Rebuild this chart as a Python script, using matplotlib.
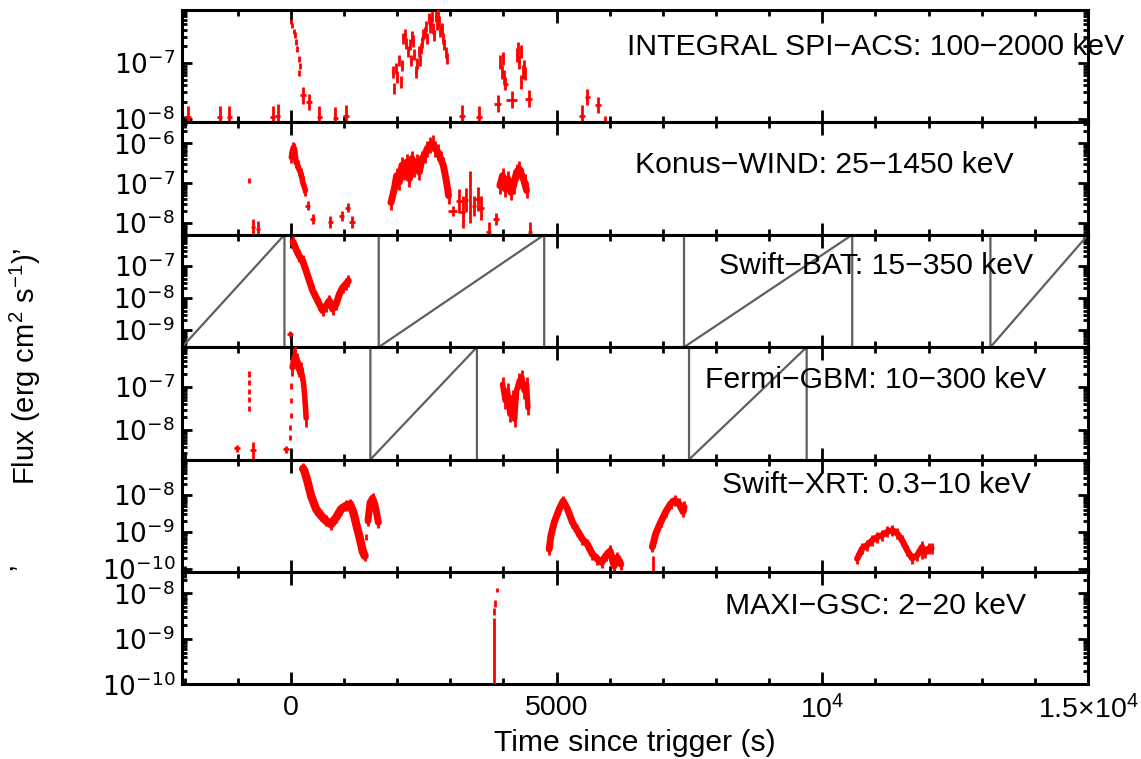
import numpy as np
import matplotlib
matplotlib.use('Agg')
import matplotlib.pyplot as plt
from matplotlib.ticker import LogLocator, NullFormatter, FixedLocator, FixedFormatter, MultipleLocator

plt.rcParams['font.family'] = ['Liberation Sans', 'DejaVu Sans']
plt.rcParams['mathtext.fontset'] = 'custom'
plt.rcParams['mathtext.rm'] = 'Liberation Sans'
plt.rcParams['mathtext.it'] = 'Liberation Sans:italic'
plt.rcParams['mathtext.bf'] = 'Liberation Sans:bold'

# ---- data: time since trigger (s) and log10 flux (erg cm-2 s-1) ----
# INTEGRAL SPI-ACS
acs1_t = [8, 28, 62, 82, 98, 118, 160, 178, 145]
acs1_lf = [-6.25, -6.32, -6.43, -6.49, -6.62, -6.74, -6.92, -7.05, -7.18]
acs2_t = [1914, 1946, 1977, 2000, 2027, 2071, 2090, 2115, 2153, 2170, 2196, 2241, 2260, 2278, 2300,
          2322, 2353, 2380, 2403, 2430, 2447, 2470, 2491, 2520, 2541, 2560, 2591, 2610, 2635, 2650,
          2679, 2700, 2729, 2750, 2767, 2785, 2805, 2842, 2860, 2886, 2910, 2929]
acs2_lf = [-7.16, -7.46, -7.10, -7.25, -6.95, -7.34, -7.05, -6.55, -6.49, -6.65, -6.79, -6.67, -6.95, -6.52, -6.60,
           -6.85, -7.16, -7.00, -6.79, -6.95, -6.73, -6.62, -6.49, -6.45, -6.34, -6.55, -6.19, -6.35, -6.25, -6.15,
           -6.37, -6.50, -6.16, -6.30, -6.10, -6.25, -6.43, -6.37, -6.55, -6.67, -6.80, -6.91]
acs3_t = [3932, 3970, 3995, 4014, 4246, 4271, 4296, 4321, 4333, 4358, 4390, 4409]
acs3_lf = [-6.98, -7.16, -6.91, -7.25, -6.85, -6.73, -6.98, -6.79, -7.34, -7.16, -7.07, -7.19]
acsx_t = [-1940, -1344, -1156, -342, -248, 222, 335, 536, 837, 1038,
          3218, 3544, 3888, 4033, 4152, 4471, 5474, 5580, 5781, 5913]
acsx_lf = [-7.97, -7.97, -7.97, -7.98, -7.95, -7.58, -7.70, -7.97, -7.99, -7.96,
           -7.95, -7.98, -7.73, -7.37, -7.66, -7.64, -7.95, -7.61, -7.76, -8.05]
acsx_dt = [60, 45, 45, 45, 45, 55, 55, 50, 50, 50, 55, 60, 70, 50, 100, 60, 55, 50, 50, 0]
acsx_dlf = [0.2, 0.2, 0.2, 0.2, 0.22, 0.15, 0.15, 0.2, 0.2, 0.2,
            0.2, 0.2, 0.15, 0.12, 0.15, 0.15, 0.2, 0.14, 0.14, 0.1]

# Konus-WIND
kw1_t = [8, 22, 45, 66, 97, 128, 160, 191, 222, 254, 273]
kw1_lf = [-6.35, -6.22, -6.10, -6.13, -6.47, -6.55, -6.68, -6.76, -6.97, -7.10, -7.18]
kw2_t = [1883, 1946, 1989, 2040, 2090, 2134, 2177, 2228, 2278, 2322, 2365, 2416, 2466, 2516,
         2566, 2617, 2667, 2717, 2767, 2817, 2867, 2918, 2967]
kw2_lf = [-7.48, -7.14, -6.81, -6.97, -6.55, -6.72, -6.47, -6.89, -6.38, -6.64, -6.47, -6.72, -6.38, -6.30,
          -6.13, -6.05, -6.00, -6.13, -6.22, -6.38, -6.55, -6.89, -7.31]
kw3_t = [3932, 3982, 4033, 4083, 4139, 4189, 4246, 4296, 4346, 4396, 4434]
kw3_lf = [-7.06, -6.81, -7.14, -6.89, -7.23, -7.06, -6.72, -6.64, -6.81, -6.97, -7.18]
kwx_t = [-780, -718, -624, 316, 410, 743, 955, 1068, 1150, 3042, 3168, 3230, 3290, 3369,
         3450, 3512, 3575, 3719, 3857, 4497]
kwx_lf = [-6.93, -8.10, -8.15, -7.56, -7.89, -7.97, -7.82, -7.61, -7.97, -7.69, -7.44, -7.73, -7.42, -7.35,
          -7.56, -7.40, -7.61, -8.22, -7.90, -8.22]
kwx_dt = [0, 40, 40, 50, 50, 50, 50, 50, 50, 90, 60, 40, 40, 10, 40, 40, 50, 50, 60, 45]
kwx_dlf = [0.07, 0.2, 0.2, 0.12, 0.12, 0.15, 0.12, 0.12, 0.15, 0.12, 0.3, 0.4, 0.3, 0.65,
           0.25, 0.3, 0.3, 0.25, 0.15, 0.25]

# Swift-BAT
bat_t = [40, 97, 160, 222, 286, 348, 410, 474, 536, 598, 662, 724, 786, 850, 912, 974, 1038, 1081]
bat_lf = [-6.25, -6.49, -6.70, -6.85, -7.16, -7.47, -7.78, -7.99, -8.20, -8.40, -8.25, -8.09,
          -8.35, -8.20, -7.88, -7.68, -7.57, -7.47]
batx_t = [-15]
batx_lf = [-9.13]
bat_saw = [(-2050, -122), (1652, 4766), (7397, 10562), (13163, 15000)]

# Fermi-GBM
gbm1_t = [22, 50, 66, 85, 110, 135, 160, 191, 215, 235, 255, 273, 286]
gbm1_lf = [-6.55, -6.38, -6.30, -6.28, -6.42, -6.50, -6.58, -6.63, -6.75, -6.90, -7.15, -7.45, -7.72]
gbm2_t = [3982, 4033, 4076, 4121, 4170, 4208, 4246, 4296, 4346, 4390, 4434, 4459]
gbm2_lf = [-6.94, -7.32, -7.09, -7.63, -7.25, -7.75, -7.09, -6.86, -6.78, -7.09, -6.94, -7.48]
gbmd_t = [-15, -10, -5, 0, 10, -780, -780, -780, -780, -780]
gbmd_lf = [-8.17, -7.94, -7.67, -7.32, -6.98, -6.70, -6.90, -7.10, -7.30, -7.50]
gbmx_t = [-1011, -718, -90]
gbmx_lf = [-8.42, -8.47, -8.44]
gbmx_dlf = [0.08, 0.19, 0.08]
gbm_saw = [(1495, 3500), (7491, 9705)]

# Swift-XRT
xrt1_t = [230, 254, 316, 380, 474, 568, 662, 756, 850, 944, 1038, 1113, 1175, 1237, 1301, 1350, 1387]
xrt1_lf = [-7.28, -7.34, -7.65, -8.02, -8.38, -8.56, -8.70, -8.79, -8.61, -8.38, -8.29, -8.25,
           -8.47, -8.84, -9.20, -9.52, -9.65]
xrt2_t = [1450, 1489, 1538, 1580, 1620, 1645]
xrt2_lf = [-8.70, -8.20, -8.08, -8.25, -8.55, -8.74]
xrt3_t = [4860, 4891, 4954, 5048, 5123, 5204, 5298, 5392, 5486, 5580, 5674, 5768, 5850, 5925,
          6006, 6082, 6144, 6208]
xrt3_lf = [-9.47, -9.11, -8.74, -8.38, -8.16, -8.38, -8.74, -8.97, -9.20, -9.34, -9.61, -9.74,
           -9.83, -9.65, -9.52, -9.93, -9.70, -9.88]
xrt4_t = [6802, 6866, 6960, 7054, 7148, 7228, 7303, 7379, 7397]
xrt4_lf = [-9.41, -9.04, -8.73, -8.45, -8.23, -8.14, -8.23, -8.45, -8.32]
xrt5_t = [10656, 10750, 10844, 10938, 11032, 11126, 11220, 11314, 11408, 11502, 11596, 11690,
          11784, 11878, 11941, 12004, 12054]
xrt5_lf = [-9.73, -9.45, -9.36, -9.23, -9.14, -9.09, -9.00, -8.95, -9.04, -9.23, -9.50, -9.72,
           -9.64, -9.41, -9.55, -9.45, -9.45]
xrtx_t = [1420, 6815, 11870]
xrtx_lf = [-9.15, -9.90, -9.60]
xrtx_dlf = [0.08, 0.25, 0.15]

# MAXI-GSC
maxi_t = [3815, 3830, 3845, 3870]
maxi_lf = [-9.30, -8.40, -8.22, -7.93]
maxi_dlf = [0.75, 0.08, 0.08, 0.05]

labels = ['INTEGRAL SPI\u2212ACS: 100\u22122000 keV', 'Konus\u2212WIND: 25\u22121450 keV',
          'Swift\u2212BAT: 15\u2212350 keV', 'Fermi\u2212GBM: 10\u2212300 keV',
          'Swift\u2212XRT: 0.3\u221210 keV', 'MAXI\u2212GSC: 2\u221220 keV']
ylims = [(-8.07, -6.04), (-8.29, -5.476), (-9.54, -6.03), (-8.68, -6.08), (-10.09, -7.03), (-10.0, -7.53)]
label_pos = [(0.766, 0.598), (0.709, 0.554), (0.766, 0.65), (0.766, 0.64), (0.766, 0.70), (0.766, 0.63)]


def bars(ax, t, lf, dt, dlf, lw=2.0):
    t = np.asarray(t, float)
    lf = np.asarray(lf, float)
    dlf = np.broadcast_to(np.asarray(dlf, float), lf.shape)
    y = 10.0 ** lf
    yerr = [y - 10.0 ** (lf - dlf), 10.0 ** (lf + dlf) - y]
    ax.errorbar(t, y, xerr=dt, yerr=yerr, fmt='none', ecolor='red', elinewidth=lw, capsize=0, zorder=3)


def band(ax, t, lf, lw):
    ax.plot(t, 10.0 ** np.asarray(lf), color='red', lw=lw, solid_joinstyle='round',
            solid_capstyle='round', zorder=3)


def saw(ax, windows):
    lo, hi = ax.get_ylim()
    for a, b in windows:
        ax.plot([a, a, b, b], [hi, lo, hi, lo], color='#5f5f5f', lw=1.6, zorder=2)


fig, axes = plt.subplots(6, 1, sharex=True, figsize=(11.41, 7.59), dpi=100)
fig.subplots_adjust(left=0.1595, right=0.9536, top=0.9868, bottom=0.0984, hspace=0)

for ax, (lo, hi), lab, (lx, ly) in zip(axes, ylims, labels, label_pos):
    ax.set_yscale('log')
    ax.set_ylim(10 ** lo, 10 ** hi)
    ax.set_xlim(-2050, 15000)
    ax.yaxis.set_major_locator(LogLocator(base=10, numticks=15))
    ax.yaxis.set_minor_locator(LogLocator(base=10, subs=np.arange(2, 10) * 1.0, numticks=15))
    ax.yaxis.set_minor_formatter(NullFormatter())
    ax.tick_params(which='both', direction='in', top=True, right=True, width=2)
    ax.tick_params(axis='x', which='major', length=9)
    ax.tick_params(axis='x', which='minor', length=4.5)
    ax.tick_params(axis='y', which='major', length=7, labelsize=19, pad=5,
                   labelfontfamily='DejaVu Sans')
    ax.tick_params(axis='y', which='minor', length=3.5)
    for s in ax.spines.values():
        s.set_linewidth(2.2)
    ax.text(lx, ly, lab, transform=ax.transAxes, ha='center', va='baseline', fontsize=21.7)

ax1, ax2, ax3, ax4, ax5, ax6 = axes

bars(ax1, acs1_t, acs1_lf, 0, 0.05)
bars(ax1, acs2_t, acs2_lf, 10, 0.1)
bars(ax1, acs3_t, acs3_lf, 8, 0.12)
bars(ax1, acsx_t, acsx_lf, acsx_dt, acsx_dlf)

band(ax2, kw1_t, kw1_lf, 4)
bars(ax2, kw1_t, kw1_lf, 6, 0.14)
band(ax2, kw2_t, kw2_lf, 5)
bars(ax2, kw2_t, kw2_lf, 12, 0.2)
band(ax2, kw3_t, kw3_lf, 5)
bars(ax2, kw3_t, kw3_lf, 12, 0.2)
bars(ax2, kwx_t, kwx_lf, kwx_dt, kwx_dlf)

saw(ax3, bat_saw)
band(ax3, bat_t, bat_lf, 5)
bars(ax3, bat_t, bat_lf, 15, 0.18)
bars(ax3, batx_t, batx_lf, 60, 0.1)

saw(ax4, gbm_saw)
band(ax4, gbm1_t, gbm1_lf, 4)
bars(ax4, gbm1_t, gbm1_lf, 6, 0.2)
band(ax4, gbm2_t, gbm2_lf, 4)
bars(ax4, gbm2_t, gbm2_lf, 10, 0.18)
bars(ax4, gbmd_t, gbmd_lf, 0, 0.06)
bars(ax4, gbmx_t, gbmx_lf, 60, gbmx_dlf)

for t, lf, w in [(xrt1_t, xrt1_lf, 6), (xrt2_t, xrt2_lf, 5), (xrt3_t, xrt3_lf, 5),
                 (xrt4_t, xrt4_lf, 5), (xrt5_t, xrt5_lf, 4.5)]:
    band(ax5, t, lf, w)
    bars(ax5, t, lf, 15, 0.15)
bars(ax5, xrtx_t, xrtx_lf, 0, xrtx_dlf)

bars(ax6, maxi_t, maxi_lf, 0, maxi_dlf)

ax6.xaxis.set_major_locator(FixedLocator([0, 5000, 10000, 15000]))
ax6.xaxis.set_major_formatter(FixedFormatter(['0', '5000', r'$\mathdefault{10^{4}}$',
                                              r'$\mathdefault{1.5{\times}10^{4}}$']))
ax6.xaxis.set_minor_locator(MultipleLocator(1000))
ax6.tick_params(axis='x', labelsize=20.5, pad=8)
ax6.set_xlabel('Time since trigger (s)', fontsize=21.7, labelpad=3)

fig.text(0.022, 0.517, r'Flux (erg cm$^{2}$ s$^{-1}$)' + '\u2019', rotation=90,
         ha='center', va='center', fontsize=21)
fig.text(0.018, 0.253, '\u2019', rotation=90, ha='center', va='center', fontsize=21)

fig.savefig('out.png', dpi=100)
